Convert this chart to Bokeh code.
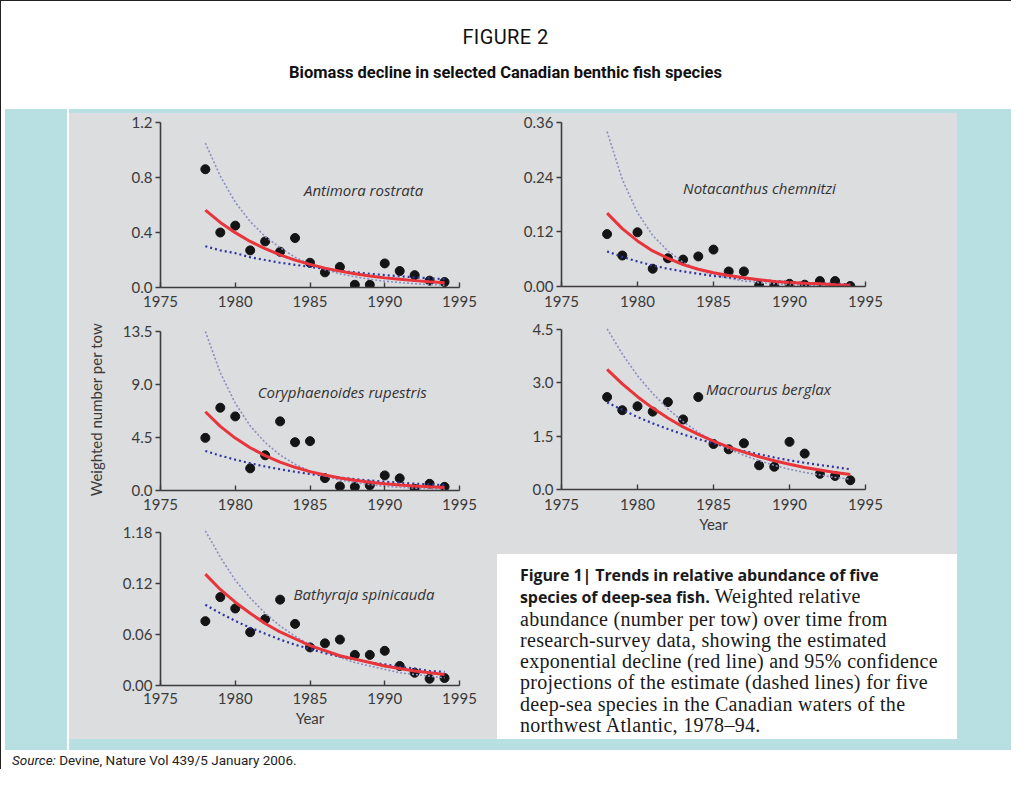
from bokeh.plotting import figure
from bokeh.models import Range1d, FixedTicker, Div, Label
from bokeh.layouts import row, column
from bokeh.embed import file_html
from bokeh.resources import INLINE

# ---------------- data ----------------
years = [1978, 1979, 1980, 1981, 1982, 1983, 1984, 1985, 1986,
         1987, 1988, 1989, 1990, 1991, 1992, 1993, 1994]
x_ticks = [1975, 1980, 1985, 1990, 1995]

antimora_obs = [0.86, 0.40, 0.45, 0.27, 0.335, 0.26, 0.36, 0.18, 0.11, 0.15, 0.02, 0.02, 0.175, 0.12, 0.09, 0.05, 0.04]
antimora_fit = [0.563, 0.473, 0.399, 0.335, 0.282, 0.237, 0.199, 0.168, 0.141, 0.119, 0.100, 0.084, 0.070, 0.060, 0.050, 0.042, 0.035]
antimora_hi = [1.05, 0.81, 0.62, 0.48, 0.37, 0.29, 0.22, 0.17, 0.13, 0.10, 0.078, 0.060, 0.046, 0.036, 0.027, 0.021, 0.017]
antimora_lo = [0.30, 0.27, 0.25, 0.22, 0.20, 0.18, 0.165, 0.15, 0.135, 0.12, 0.11, 0.10, 0.09, 0.082, 0.074, 0.067, 0.061]
antimora_ticks = [0, 0.4, 0.8, 1.2]
antimora_labels = ["0.0", "0.4", "0.8", "1.2"]

notacanthus_obs = [0.115, 0.068, 0.119, 0.039, 0.062, 0.059, 0.066, 0.081, 0.033, 0.033, 0.002, 0.002, 0.006, 0.004, 0.012, 0.012, 0.001]
notacanthus_fit = [0.161, 0.127, 0.100, 0.078, 0.062, 0.048, 0.038, 0.030, 0.024, 0.019, 0.015, 0.011, 0.009, 0.007, 0.006, 0.004, 0.003]
notacanthus_hi = [0.34, 0.235, 0.162, 0.112, 0.078, 0.053, 0.037, 0.026, 0.018, 0.012, 0.0085, 0.006, 0.004, 0.003, 0.002, 0.0013, 0.0009]
notacanthus_lo = [0.077, 0.065, 0.055, 0.046, 0.039, 0.033, 0.028, 0.023, 0.020, 0.017, 0.014, 0.012, 0.010, 0.008, 0.007, 0.006, 0.005]
notacanthus_ticks = [0, 0.12, 0.24, 0.36]
notacanthus_labels = ["0.00", "0.12", "0.24", "0.36"]

coryphaenoides_obs = [4.47, 7.03, 6.29, 1.88, 2.99, 5.87, 4.10, 4.19, 1.05, 0.35, 0.31, 0.43, 1.28, 1.03, 0.14, 0.57, 0.31]
coryphaenoides_fit = [6.69, 5.45, 4.45, 3.63, 2.96, 2.41, 1.97, 1.60, 1.31, 1.06, 0.87, 0.71, 0.58, 0.47, 0.38, 0.31, 0.26]
coryphaenoides_hi = [13.5, 10.0, 7.41, 5.49, 4.07, 3.01, 2.23, 1.65, 1.23, 0.90, 0.67, 0.50, 0.36, 0.27, 0.20, 0.15, 0.11]
coryphaenoides_lo = [3.36, 2.96, 2.62, 2.31, 2.04, 1.80, 1.59, 1.40, 1.24, 1.09, 0.96, 0.85, 0.75, 0.66, 0.58, 0.51, 0.45]
coryphaenoides_ticks = [0, 4.5, 9.0, 13.5]
coryphaenoides_labels = ["0.0", "4.5", "9.0", "13.5"]

macrourus_obs = [2.60, 2.23, 2.34, 2.19, 2.46, 1.97, 2.60, 1.28, 1.13, 1.30, 0.68, 0.64, 1.34, 1.01, 0.44, 0.38, 0.26]
macrourus_fit = [3.38, 2.97, 2.61, 2.29, 2.01, 1.76, 1.55, 1.36, 1.19, 1.05, 0.92, 0.81, 0.71, 0.62, 0.55, 0.48, 0.42]
macrourus_hi = [4.52, 3.81, 3.20, 2.70, 2.27, 1.91, 1.61, 1.36, 1.14, 0.96, 0.81, 0.68, 0.57, 0.48, 0.41, 0.34, 0.29]
macrourus_lo = [2.45, 2.24, 2.04, 1.86, 1.70, 1.55, 1.42, 1.30, 1.18, 1.08, 0.99, 0.90, 0.82, 0.75, 0.69, 0.63, 0.57]
macrourus_ticks = [0, 1.5, 3.0, 4.5]
macrourus_labels = ["0.0", "1.5", "3.0", "4.5"]

bathyraja_obs = [0.0757, 0.104, 0.0906, 0.0627, 0.078, 0.101, 0.0725, 0.0448, 0.0496, 0.054, 0.036, 0.036, 0.0408, 0.023, 0.015, 0.008, 0.0088]
bathyraja_fit = [0.131, 0.113, 0.098, 0.085, 0.073, 0.063, 0.055, 0.047, 0.041, 0.035, 0.031, 0.027, 0.023, 0.020, 0.017, 0.015, 0.013]
bathyraja_hi = [0.182, 0.151, 0.124, 0.103, 0.085, 0.070, 0.058, 0.048, 0.040, 0.033, 0.027, 0.023, 0.019, 0.015, 0.013, 0.011, 0.009]
bathyraja_lo = [0.095, 0.085, 0.076, 0.068, 0.061, 0.054, 0.048, 0.043, 0.038, 0.034, 0.031, 0.027, 0.025, 0.022, 0.020, 0.017, 0.016]
bathyraja_ticks = [0, 0.06, 0.12, 0.18]
bathyraja_labels = ["0.00", "0.06", "0.12", "1.18"]

# ---------------- style ----------------
TEAL = "#B8DFE2"
GREY = "#DCDDDF"
AXIS = "#3c3c3c"
RED = "#E8353B"
HI_COL = "#8A8EC0"
LO_COL = "#2F35A3"
DOT = "#141414"


def panel(obs, fit, hi, lo, yticks, ylabels, species, sp_x, sp_y,
          width, height, bl, br, bt, bb, xlab_standoff, ylabel=None, xlabel=None):
    frame_h = height - bt - bb
    ymax = yticks[-1]
    y_end = ymax * frame_h / (frame_h - 3)
    p = figure(width=width, height=height, title=None,
               x_range=Range1d(1975, 1995), y_range=Range1d(0, y_end),
               min_border_left=bl, min_border_right=br,
               min_border_top=bt, min_border_bottom=bb,
               toolbar_location=None, output_backend="svg",
               background_fill_color=GREY, border_fill_color=GREY,
               outline_line_color=None)
    p.grid.visible = False
    xa = p.xaxis[0]
    ya = p.yaxis[0]
    xa.ticker = FixedTicker(ticks=x_ticks)
    ya.ticker = FixedTicker(ticks=yticks)
    ya.major_label_overrides = {t: l for t, l in zip(yticks, ylabels)}
    xa.bounds = (1975, 1995)
    ya.bounds = (0, ymax)
    for ax in (xa, ya):
        ax.axis_line_color = AXIS
        ax.axis_line_width = 1.6
        ax.major_tick_line_color = AXIS
        ax.major_tick_line_width = 1.4
        ax.minor_tick_line_color = None
        ax.major_label_text_font = "Lato"
        ax.major_label_text_font_size = "15px"
        ax.major_label_text_color = "#3a3a3a"
        ax.axis_label_text_font = "Lato"
        ax.axis_label_text_font_size = "15px"
        ax.axis_label_text_font_style = "normal"
        ax.axis_label_text_color = "#3a3a3a"
    xa.major_tick_in = 5
    xa.major_tick_out = 0
    xa.major_label_standoff = xlab_standoff
    ya.major_tick_in = 0
    ya.major_tick_out = 5
    ya.major_label_standoff = 3
    if ylabel:
        ya.axis_label = ylabel
        ya.axis_label_standoff = 15
    if xlabel:
        xa.axis_label = xlabel
        xa.axis_label_standoff = 2

    p.scatter(years, obs, size=9, marker="circle", fill_color=DOT, line_color=DOT)
    p.line(years, hi, line_color=HI_COL, line_width=1.6, line_dash="2 2")
    p.line(years, lo, line_color=LO_COL, line_width=2.2, line_dash="2 3")
    p.line(years, fit, line_color=RED, line_width=3)
    p.add_layout(Label(x=sp_x, y=sp_y, text=species, text_font="Open Sans",
                       text_font_style="italic", text_font_size="15px",
                       text_color="#333333", text_baseline="middle", text_align="left"))
    return p


p1 = panel(antimora_obs, antimora_fit, antimora_hi, antimora_lo,
           antimora_ticks, antimora_labels, "Antimora rostrata", 1984.6, 0.71,
           428, 202, 91, 38, 6, 28, 8)
p3 = panel(coryphaenoides_obs, coryphaenoides_fit, coryphaenoides_hi, coryphaenoides_lo,
           coryphaenoides_ticks, coryphaenoides_labels, "Coryphaenoides rupestris", 1981.5, 8.37,
           428, 203, 91, 38, 13, 28, 8, ylabel="Weighted number per tow")
p5 = panel(bathyraja_obs, bathyraja_fit, bathyraja_hi, bathyraja_lo,
           bathyraja_ticks, bathyraja_labels, "Bathyraja spinicauda", 1983.9, 0.108,
           428, 221, 91, 38, 11, 54, 7, xlabel="Year")
p2 = panel(notacanthus_obs, notacanthus_fit, notacanthus_hi, notacanthus_lo,
           notacanthus_ticks, notacanthus_labels, "Notacanthus chemnitzi", 1983.0, 0.217,
           460, 201, 64, 92, 6, 28, 9)
p4 = panel(macrourus_obs, macrourus_fit, macrourus_hi, macrourus_lo,
           macrourus_ticks, macrourus_labels, "Macrourus berglax", 1984.5, 2.82,
           460, 240, 64, 92, 12, 65, 9, xlabel="Year")


def block(html, w, h):
    return Div(text=html, width=w, height=h, margin=0)


header = block(
    '<div style="position:relative;width:1011px;height:109px;background:#fff;overflow:hidden">'
    '<div style="position:absolute;left:0;top:0;width:1011px;height:1px;background:#222"></div>'
    '<div style="position:absolute;left:0;top:0;width:1px;height:109px;background:#222"></div>'
    '<div style="position:absolute;left:0;top:25px;width:1011px;text-align:center;'
    'font-family:Roboto;font-size:20px;letter-spacing:0.4px;line-height:24px;color:#111">FIGURE 2</div>'
    '<div style="position:absolute;left:0;top:62px;width:1011px;text-align:center;'
    'font-family:Roboto;font-weight:bold;font-size:16.5px;line-height:22px;color:#111">'
    'Biomass decline in selected Canadian benthic fish species</div></div>', 1011, 109)

left_strip = block(
    '<div style="position:relative;width:69px;height:641px;background:#fff">'
    '<div style="position:absolute;left:0;top:0;width:1px;height:641px;background:#222"></div>'
    f'<div style="position:absolute;left:5px;top:0;width:62px;height:641px;background:{TEAL}"></div>'
    '</div>', 69, 641)
right_strip = block(f'<div style="width:54px;height:641px;background:{TEAL}"></div>', 54, 641)
teal_top = block(f'<div style="width:888px;height:4px;background:{TEAL}"></div>', 888, 4)
teal_bot = block(f'<div style="width:888px;height:11px;background:{TEAL}"></div>', 888, 11)

serif = "font-family:'Liberation Serif';font-size:20px;letter-spacing:0.3px;color:#1a1a1a"
bold = "font-family:'Open Sans';font-weight:bold;font-size:16px;letter-spacing:-0.1px;color:#1a1a1a"
caption = block(
    '<div style="position:relative;width:460px;height:185px;background:#fff;overflow:hidden">'
    f'<div style="position:absolute;left:23px;top:10px;line-height:21.3px;white-space:nowrap;{serif}">'
    f'<span style="{bold}">Figure 1| Trends in relative abundance of five</span><br>'
    f'<span style="{bold}">species of deep-sea fish.</span> Weighted relative<br>'
    'abundance (number per tow) over time from<br>'
    'research-survey data, showing the estimated<br>'
    'exponential decline (red line) and 95% confidence<br>'
    'projections of the estimate (dashed lines) for five<br>'
    'deep-sea species in the Canadian waters of the<br>'
    'northwest Atlantic, 1978–94.</div></div>', 460, 185)

footer = block(
    '<div style="position:relative;width:1011px;height:19px;background:#fff">'
    '<div style="position:absolute;left:0;top:0;width:1px;height:19px;background:#222"></div>'
    '<div style="position:absolute;left:12px;top:2px;line-height:17px;font-family:Roboto;'
    'font-size:13.5px;color:#222;white-space:nowrap"><i>Source:</i> Devine, Nature Vol 439/5 January 2006.</div>'
    '</div>', 1011, 19)

grey_bg = {"background-color": GREY}
left_col = column(p1, p3, p5, spacing=0, styles=grey_bg)
right_col = column(p2, p4, caption, spacing=0, styles=grey_bg)
grey_area = row(left_col, right_col, spacing=0, styles=grey_bg)
middle = column(teal_top, grey_area, teal_bot, spacing=0, styles={"background-color": TEAL})
teal_block = row(left_strip, middle, right_strip, spacing=0, styles={"background-color": TEAL})
root = column(header, teal_block, footer, spacing=0, styles={"background-color": "#ffffff"})

open("out.html", "w").write(file_html(root, INLINE, "Figure 2"))
